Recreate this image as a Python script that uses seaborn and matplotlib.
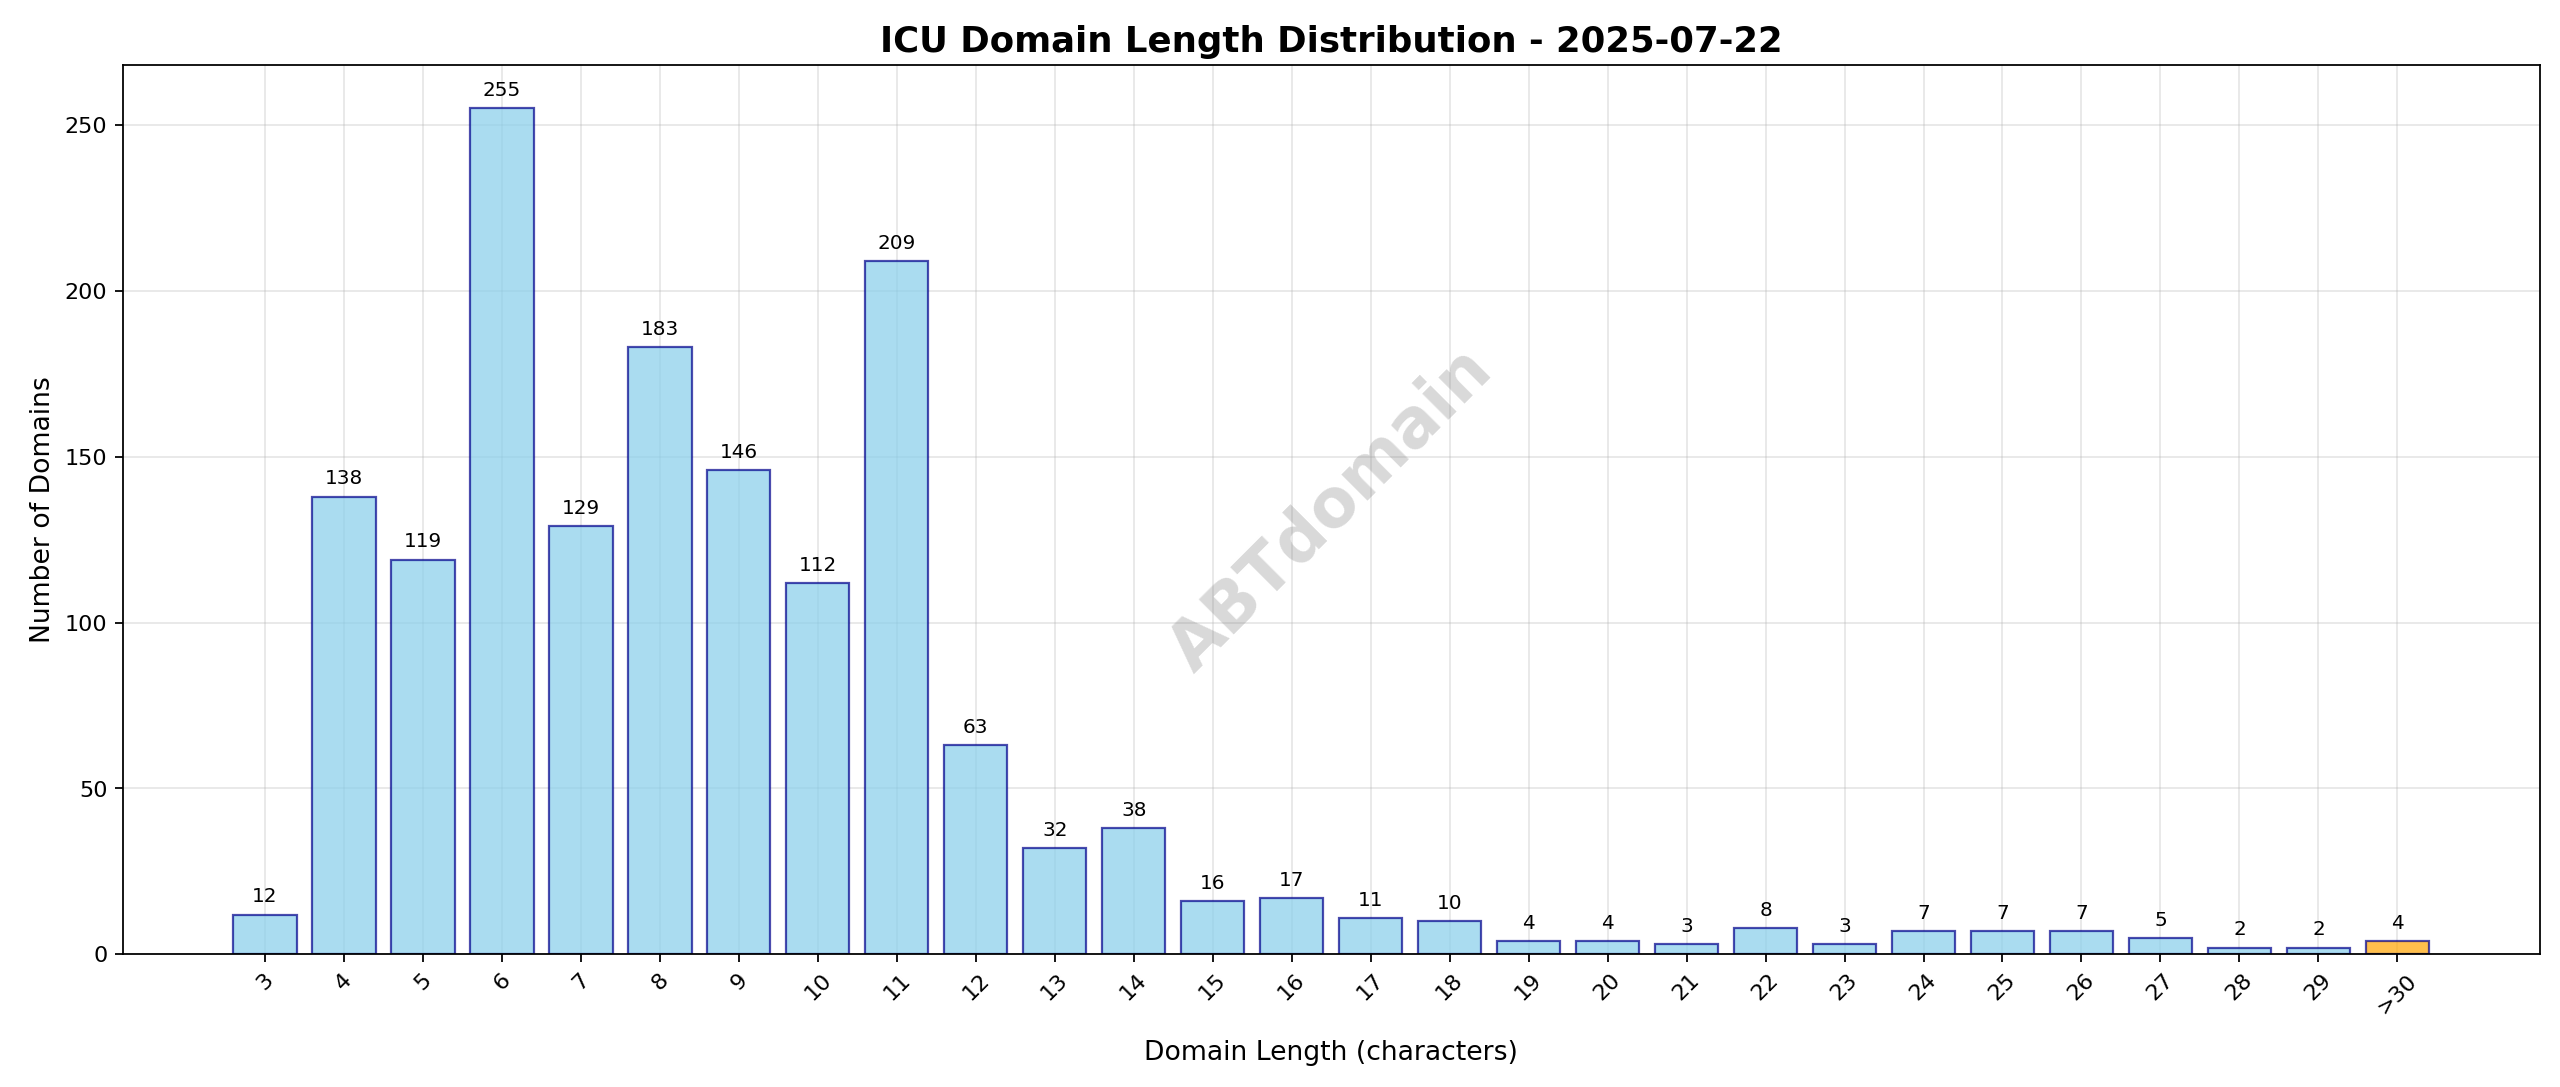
import matplotlib
matplotlib.use("Agg")
import matplotlib.pyplot as plt
import seaborn as sns
import pandas as pd

lengths = [str(i) for i in range(3, 30)] + [">30"]
counts = [12, 138, 119, 255, 129, 183, 146, 112, 209, 63, 32, 38, 16, 17, 11, 10,
          4, 4, 3, 8, 3, 7, 7, 7, 5, 2, 2, 4]
colors = ["skyblue"] * (len(lengths) - 1) + ["orange"]

df = pd.DataFrame({"length": lengths, "count": counts})
fig, ax = plt.subplots(figsize=(16, 6.794), dpi=160)
sns.barplot(data=df, x="length", y="count", hue="length", palette=colors, legend=False,
            width=0.8, edgecolor="darkblue", linewidth=1.0, alpha=0.7, saturation=1, ax=ax)
for p in ax.patches:
    p.set_edgecolor((0, 0, 0.55, 0.7))
for i, c in enumerate(counts):
    ax.text(i, c + 2.5, str(c), ha="center", va="bottom", fontsize=9)
ax.set_xlim(-1.8, 28.8)
ax.set_ylim(0, 268)
ax.set_title("ICU Domain Length Distribution - 2025-07-22", fontsize=16, fontweight="bold")
ax.set_xlabel("Domain Length (characters)", fontsize=12, labelpad=10)
ax.set_ylabel("Number of Domains", fontsize=12)
ax.tick_params(axis="x", rotation=45)
ax.grid(True, alpha=0.3)
ax.set_axisbelow(True)
ax.text(0.5, 0.5, "ABTdomain", transform=ax.transAxes, fontsize=30, fontweight="bold",
        color="gray", alpha=0.3, rotation=45, ha="center", va="center")
fig.subplots_adjust(left=0.048, right=0.992, top=0.94, bottom=0.122)
fig.savefig("out.png", dpi=160)
